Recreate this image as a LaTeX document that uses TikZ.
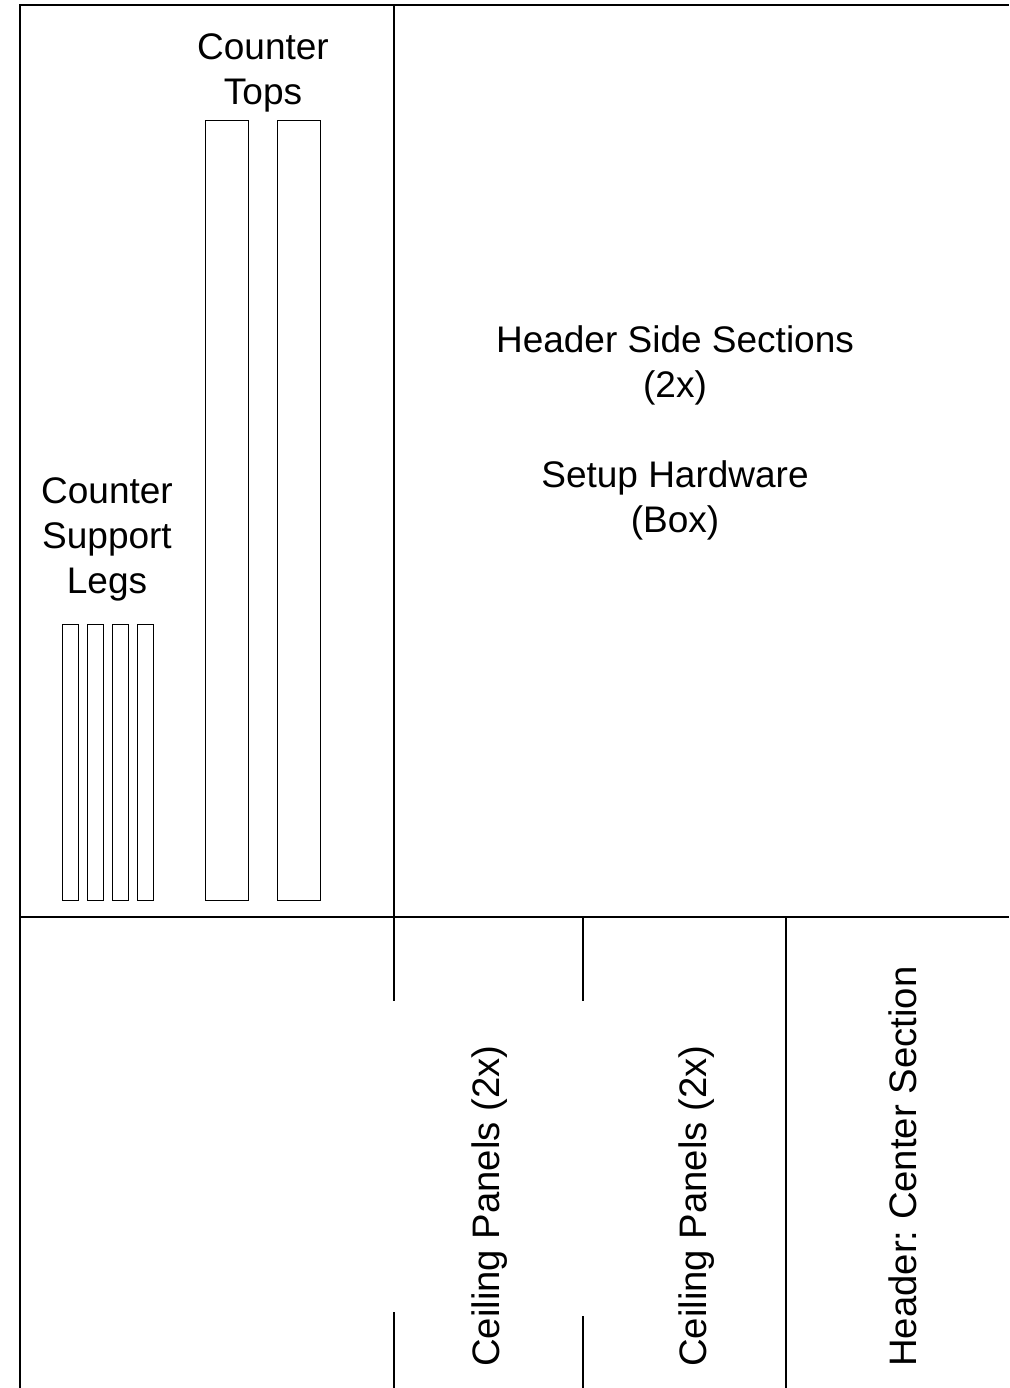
\documentclass[tikz,border=0pt]{standalone}
\usepackage{fontspec}
\setmainfont{Liberation Sans}
\frenchspacing
\tikzset{
  wall/.style={line width=2.5pt, black},
  seg/.style={line width=2pt, black},
  piece/.style={line width=1pt, black},
  lbl/.style={font=\fontsize{37}{45}\selectfont, align=center, inner sep=0pt},
  vlbl/.style={font=\fontsize{38.3}{45}\selectfont, inner sep=0pt, rotate=90, anchor=west},
}
\begin{document}
\begin{tikzpicture}[x=1pt,y=-1pt]
\useasboundingbox (0,0) rectangle (1009,1388);
% outer frame
\draw[wall] (20,1388) -- (20,5) -- (1009,5);
\draw[wall] (394,5) -- (394,917);
\draw[wall] (20,917) -- (1009,917);
% bottom separators
\draw[seg] (394,917) -- (394,1001);
\draw[seg] (394,1312) -- (394,1388);
\draw[seg] (583,917) -- (583,1001);
\draw[seg] (583,1316) -- (583,1388);
\draw[seg] (786,917) -- (786,1388);
% counter tops
\draw[piece] (205,121) rectangle (248,900);
\draw[piece] (277,121) rectangle (320,900);
% legs
\foreach \x in {62,87,112,137} \draw[piece] (\x,624) rectangle (\x+16,900);
% labels
\node[lbl] (tops) at (263,73) {Counter\\Tops};
\node[lbl] (legs) at (107,539) {Counter\\Support\\Legs};
\node[lbl] (hdr) at (675,433) {Header Side Sections\\(2x)\\[45pt]Setup Hardware\\(Box)};
\node[vlbl] (ceil1) at (490,1367) {Ceiling Panels (2x)};
\node[vlbl] (ceil2) at (697,1367) {Ceiling Panels (2x)};
\node[vlbl] (center) at (903,1367) {Header: Center Section};
\end{tikzpicture}
\end{document}
